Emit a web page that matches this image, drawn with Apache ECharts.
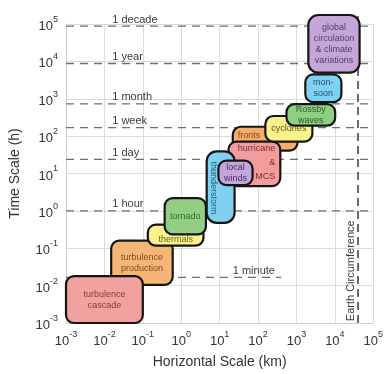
<!DOCTYPE html>
<html><head><meta charset="utf-8">
<script src="https://cdn.jsdelivr.net/npm/echarts@6/dist/echarts.min.js"></script>
<style>html,body{margin:0;padding:0;background:#fff}#c{width:386px;height:374px}</style>
</head><body><div id="c"></div>
<script>
// ---- data ----
const boxNames = ['turbulence\nproduction','turbulence\ncascade','thermals','tornado','fronts','hurricane\n&\nMCS','thunderstorm','local\nwinds','cyclones','Rossby\nwaves','mon-\nsoon','global\ncirculation\n& climate\nvariations'];
const boxXMin = [0.015, 0.001, 0.135, 0.37, 22, 17, 4.6, 9.3, 155, 550, 1700, 2040];   // km
const boxXMax = [0.6, 0.1, 3.8, 4.4, 1070, 380, 24.5, 72, 2600, 10200, 14800, 44000];   // km
const boxYMin = [0.0105, 0.001, 0.117, 0.235, 41, 4.6, 0.48, 4.9, 71, 190, 810, 5000];  // h
const boxYMax = [0.16, 0.018, 0.43, 2.2, 178, 71, 39, 22, 345, 720, 4500, 174000];      // h
const timeMarkLabels = ['1 decade','1 year','1 month','1 week','1 day','1 hour','1 minute'];
const timeMarkHours = [87600, 8760, 730, 168, 24, 1, 1/60];
const timeMarkXStart = [0.001, 0.001, 0.001, 0.001, 0.001, 0.001, 0.001];
const timeMarkXEnd = [100000, 100000, 100000, 100000, 100000, 100000, 400];
const timeMarkLabelX = [0.016, 0.016, 0.016, 0.016, 0.016, 0.016, 22];
const earthCircumferenceKm = 40075;
const earthLabel = 'Earth Circumference';
const earthLineY = [0.001, 180000];
const earthLabelY = 0.025;

// ---- styles ----
const boxFill = ['#f5b574','#f2a1a1','#f8f18c','#92cf85','#f5ad6b','#f29d9d','#80d1ef','#c5a6d9','#f9f28b','#8fcf82','#7ed1f0','#c5a6d9'];
const boxText = ['#7a4e24','#8c3535','#6c6620','#336b2c','#7a4a1c','#7a2e2e','#245a7e','#4b2f66','#5b5518','#2d5a2a','#23507a','#583a70'];
const boxTextMode = ['c','c','bottom','c','topleft','right','rot','c','c','c','c','c'];

const FONT = '"Liberation Sans", Arial, Helvetica, sans-serif';

function supLabel(v) {
  const e = Math.round(Math.log10(v));
  return '{b|10}{s|' + (e < 0 ? '-' + (-e) : e) + '}';
}
const richLabel = {
  b: { fontSize: 13, lineHeight: 18, verticalAlign: 'bottom', color: '#333', fontFamily: FONT },
  s: { fontSize: 9, lineHeight: 10, verticalAlign: 'top', color: '#333', fontFamily: FONT }
};

const boxData = boxNames.map((n, i) => [boxXMin[i], boxXMax[i], boxYMin[i], boxYMax[i]]);
const markData = timeMarkHours.map((h, i) => [timeMarkXStart[i], timeMarkXEnd[i], h, timeMarkLabelX[i]]);

const chart = echarts.init(document.getElementById('c'), null, { renderer: 'canvas' });
chart.setOption({
  animation: false,
  backgroundColor: '#fff',
  grid: { left: 66, right: 11, top: 24, bottom: 48 },
  xAxis: {
    type: 'log', logBase: 10, min: 0.001, max: 100000, splitNumber: 8,
    name: 'Horizontal Scale (km)', nameLocation: 'middle', nameGap: 32,
    nameTextStyle: { fontSize: 14, color: '#333', fontFamily: FONT },
    axisLine: { lineStyle: { color: '#cfcfcf' } },
    axisTick: { show: false },
    axisLabel: { margin: 7, formatter: supLabel, rich: richLabel },
    splitLine: { show: true, lineStyle: { color: '#dcdcdc', width: 1 } },
    minorSplitLine: { show: false }
  },
  yAxis: {
    type: 'log', logBase: 10, min: 0.001, max: 100000, splitNumber: 8,
    name: 'Time Scale (h)', nameLocation: 'middle', nameGap: 44,
    nameTextStyle: { fontSize: 14, color: '#333', fontFamily: FONT },
    axisLine: { show: true, lineStyle: { color: '#cfcfcf' } },
    axisTick: { show: false },
    axisLabel: { margin: 8, formatter: supLabel, rich: richLabel },
    splitLine: { show: true, lineStyle: { color: '#dcdcdc', width: 1 } }
  },
  series: [
    {
      type: 'custom', z: 2, clip: false,
      data: markData,
      renderItem: (params, api) => {
        const i = params.dataIndex;
        const a = api.coord([api.value(0), api.value(2)]);
        const b = api.coord([api.value(1), api.value(2)]);
        const t = api.coord([api.value(3), api.value(2)]);
        return {
          type: 'group',
          children: [
            { type: 'line', shape: { x1: a[0], y1: a[1], x2: b[0], y2: b[1] },
              style: { stroke: '#6e6e6e', lineWidth: 1.3, lineDash: [8, 6] } },
            { type: 'text', x: t[0], y: t[1] - 1,
              style: { text: timeMarkLabels[i], fill: '#3a3a3a', fontSize: 11, fontFamily: FONT,
                       align: 'left', verticalAlign: 'bottom' } }
          ]
        };
      }
    },
    {
      type: 'custom', z: 3, clip: false,
      data: [[earthCircumferenceKm, earthLineY[0], earthLineY[1], earthLabelY]],
      renderItem: (params, api) => {
        const a = api.coord([api.value(0), api.value(1)]);
        const b = api.coord([api.value(0), api.value(2)]);
        const t = api.coord([api.value(0), api.value(3)]);
        return {
          type: 'group',
          children: [
            { type: 'line', shape: { x1: a[0], y1: a[1], x2: b[0], y2: b[1] },
              style: { stroke: '#3a3a3a', lineWidth: 1.5, lineDash: [8, 5] } },
            { type: 'text', x: t[0] - 7, y: t[1], rotation: Math.PI / 2,
              style: { text: earthLabel, fill: '#3a3a3a', fontSize: 11, fontFamily: FONT,
                       align: 'center', verticalAlign: 'middle' } }
          ]
        };
      }
    },
    {
      type: 'custom', z: 5, clip: false,
      data: boxData,
      renderItem: (params, api) => {
        const i = params.dataIndex;
        const a = api.coord([api.value(0), api.value(3)]);
        const b = api.coord([api.value(1), api.value(2)]);
        const w = b[0] - a[0], h = b[1] - a[1];
        const mode = boxTextMode[i];
        const ts = { text: boxNames[i], fill: boxText[i], fontSize: 9, lineHeight: 11, fontFamily: FONT };
        let tc = { position: 'inside' };
        if (mode === 'bottom') { tc = { position: 'insideBottom', distance: 2 }; }
        if (mode === 'topleft') { tc = { position: [6, 4] }; ts.align = 'left'; ts.verticalAlign = 'top'; }
        if (mode === 'right') { tc = { position: [w - 4, 1] }; ts.align = 'right'; ts.verticalAlign = 'top'; ts.lineHeight = 14; }
        if (mode === 'rot') { tc = { position: [8, h / 2 + 2], rotation: -Math.PI / 2 }; ts.align = 'center'; ts.verticalAlign = 'middle'; }
        if (mode === 'c') { ts.align = 'center'; ts.verticalAlign = 'middle'; }
        return {
          type: 'rect',
          shape: { x: a[0], y: a[1], width: w, height: h, r: h > 50 ? 10 : 8 },
          style: { fill: boxFill[i], stroke: '#161616', lineWidth: 2.2 },
          textContent: { style: ts },
          textConfig: tc
        };
      }
    }
  ]
});
</script>
</body></html>
